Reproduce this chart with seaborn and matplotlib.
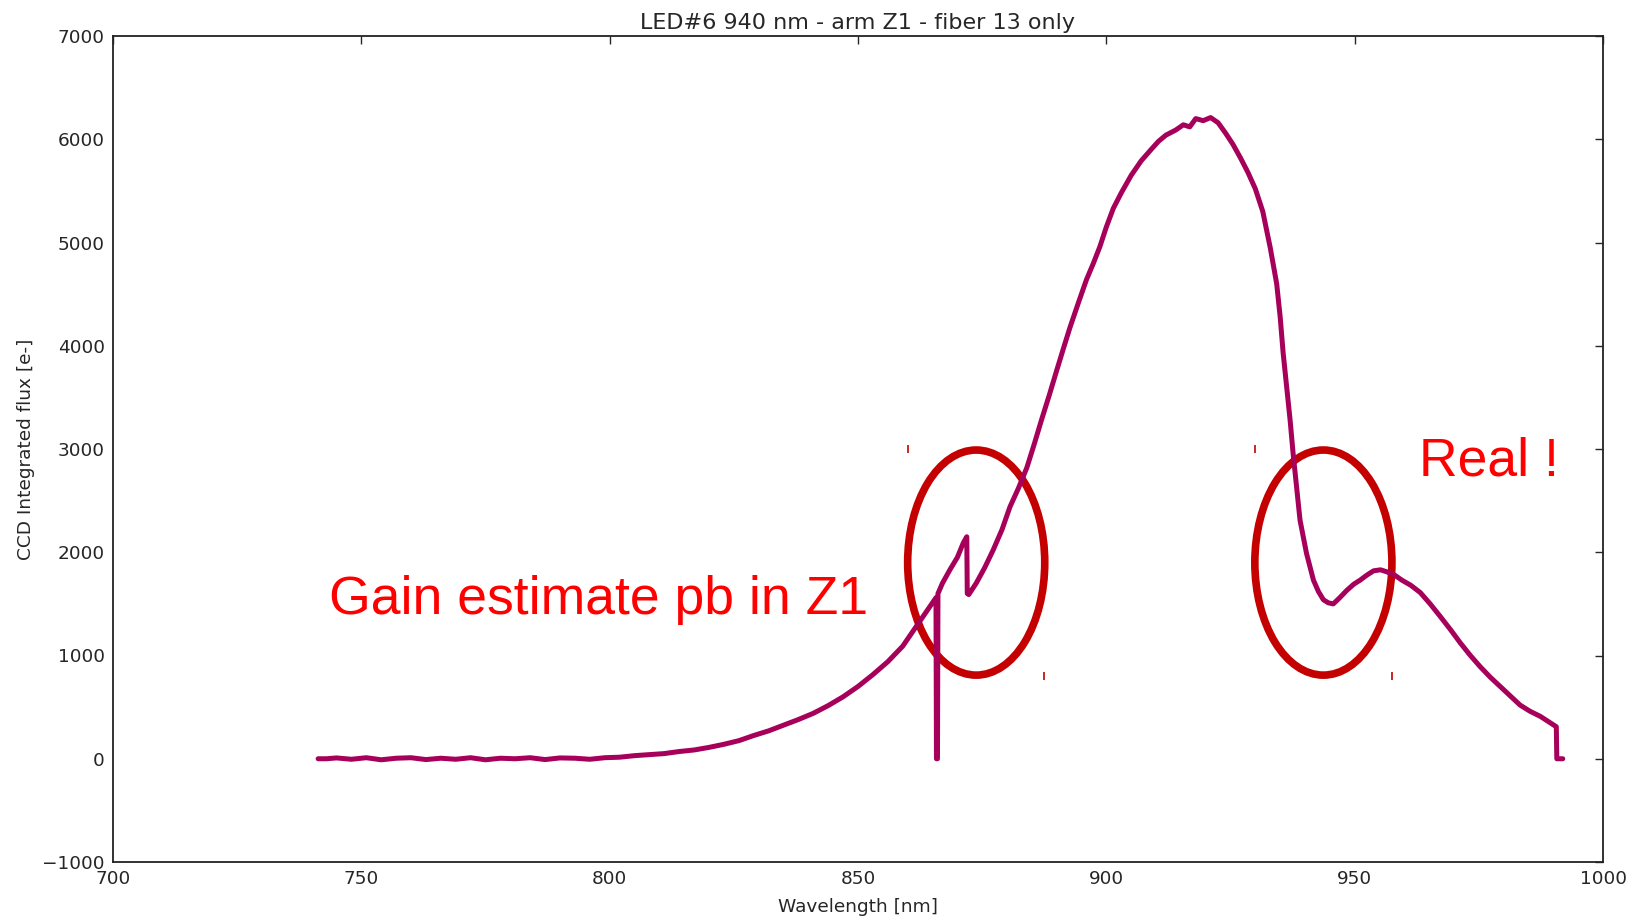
"""LED#6 940 nm spectrum, arm Z1, fiber 13."""

import matplotlib

matplotlib.use("Agg")
import matplotlib.pyplot as plt
import pandas as pd
import seaborn as sns
from matplotlib.patches import Ellipse

# wavelength [nm] and integrated flux [e-]
wavelength = [
    741.3, 743.0, 745, 748, 751, 754, 757, 760, 763, 766, 769, 772, 775, 778,
    781, 784, 787, 790, 793, 796, 799, 802, 805, 808, 811, 814, 817, 820, 823,
    826, 829, 832, 835, 838, 841, 844, 847, 850, 853, 856, 859, 862, 864,
    865.7, 865.8, 866.0, 866.1, 867, 868.5, 870, 871.2, 871.9, 872.0, 872.3,
    873.8, 875.5, 877.2, 879, 880.6, 882.3, 884, 885.5, 887, 888.5, 890,
    891.4, 892.7, 894.4, 896, 897.4, 898.7, 900, 901.4, 903, 905, 907, 909,
    910.5, 912, 914, 915.5, 916.8, 918, 919.5, 921, 922.5, 924, 925.5, 927,
    928.5, 930, 931.5, 933, 934.3, 935, 935.6, 936.3, 937, 937.6, 938.3, 939,
    940.3, 941.7, 942.7, 943.7, 944.7, 945.7, 947, 948.4, 949.8, 951.1, 952.5,
    953.8, 955.2, 956.5, 958, 959.5, 961.3, 963.2, 965.2, 967.2, 969.3, 971.3,
    973.3, 975.3, 977.3, 979.3, 981.3, 983.3, 985.3, 987.4, 989, 990.6, 990.7,
    991.9,
]
flux = [
    0, 0, 8, -5, 10, -10, 5, 10, -8, 5, -5, 10, -10, 5,
    0, 10, -8, 8, 5, -5, 10, 15, 30, 40, 50, 70, 85, 110, 140,
    175, 225, 270, 325, 380, 440, 515, 600, 700, 815, 940, 1090, 1300, 1440,
    1560, 0, 0, 1600, 1700, 1830, 1950, 2090, 2150, 1600, 1590,
    1700, 1850, 2020, 2220, 2440, 2620, 2820, 3050, 3290, 3520, 3760,
    3980, 4180, 4420, 4640, 4800, 4960, 5150, 5330, 5480, 5650, 5790, 5900,
    5980, 6040, 6090, 6140, 6120, 6200, 6180, 6210, 6160, 6060, 5950, 5820,
    5680, 5520, 5300, 4950, 4600, 4280, 3930, 3600, 3280, 2960, 2640, 2310,
    1990, 1730, 1620, 1540, 1510, 1500, 1560, 1630, 1690, 1730, 1780,
    1820, 1830, 1810, 1780, 1730, 1680, 1610, 1500, 1380, 1250, 1120,
    1000, 890, 790, 700, 610, 520, 460, 410, 360, 310, 0,
    0,
]

# hand-drawn annotation ellipses (centre wavelength, centre flux, width, height)
ell_x = [873.8, 943.7]
ell_y = [1900, 1900]
ell_w = [27.6, 27.6]
ell_h = [2180, 2180]

# small red marks left over from the drawing
mark_x = [860, 887.5, 930, 957.5]
mark_y = [3000, 800, 3000, 800]

LINE = "#a6005a"
DARK_RED = "#c40000"

sns.set_style("white")
plt.rcParams["font.family"] = ["DejaVu Sans"]
plt.rcParams["font.size"] = 13.3

df = pd.DataFrame({"wavelength": wavelength, "flux": flux})

fig, ax = plt.subplots(figsize=(16.28, 9.17), dpi=100)
fig.subplots_adjust(left=113 / 1628, right=1603 / 1628,
                    bottom=1 - 862 / 917, top=1 - 36 / 917)

# thick line stands in for the pixel-level noise band of the raw spectrum
sns.lineplot(data=df, x="wavelength", y="flux", sort=False, estimator=None,
             color=LINE, lw=3.6, ax=ax)

for cx, cy, w, h in zip(ell_x, ell_y, ell_w, ell_h):
    ax.add_patch(Ellipse((cx, cy), w, h, fill=False, ec=DARK_RED, lw=5.5))
ax.plot(mark_x, mark_y, ls="none", marker="|", ms=6, mew=1.2, color=DARK_RED)

ax.text(743.5, 1400, "Gain estimate pb in Z1", color="red", fontsize=38.5,
        family=["Liberation Sans", "DejaVu Sans"], va="baseline")
ax.text(963.0, 2740, "Real !", color="red", fontsize=38.5,
        family=["Liberation Sans", "DejaVu Sans"], va="baseline")

ax.set_xlim(700, 1000)
ax.set_ylim(-1000, 7000)
ax.set_xticks(range(700, 1001, 50))
ax.set_yticks(range(-1000, 7001, 1000))
ax.tick_params(direction="in", length=6, width=1, top=True, right=True,
               labelsize=13.3, pad=6)
for sp in ax.spines.values():
    sp.set_color("#222222")
    sp.set_linewidth(1.3)

ax.set_xlabel("Wavelength [nm]", fontsize=13.3, labelpad=7)
ax.set_ylabel("CCD Integrated flux [e-]", fontsize=13.3, labelpad=5)
ax.set_title("LED#6 940 nm - arm Z1 - fiber 13 only", fontsize=16, pad=5)

fig.savefig("out.png", dpi=100)
plt.close(fig)
